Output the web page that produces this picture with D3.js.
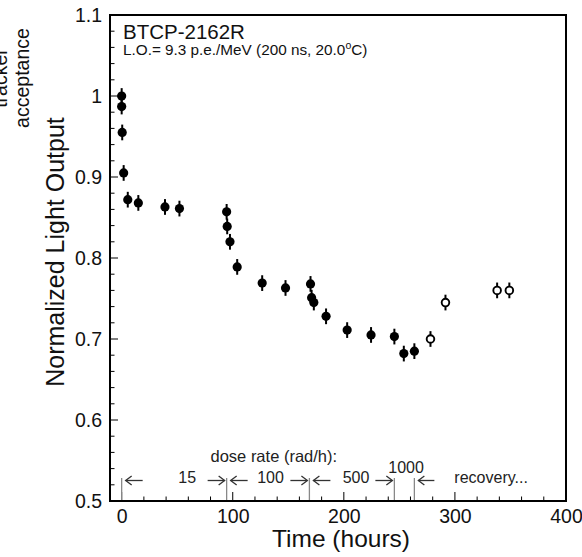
<!DOCTYPE html>
<html>
<head>
<meta charset="utf-8">
<script src="https://cdn.jsdelivr.net/npm/d3@7"></script>
<style>
html,body{margin:0;padding:0;background:#fff;}
svg{display:block;font-family:"Liberation Sans",Arial,Helvetica,sans-serif;}
</style>
</head>
<body>
<svg id="chart" width="582" height="557"></svg>
<script>
// ---- data ----
const irradTimes  = [0, 0, 0.5, 1.8, 5.5, 15, 39, 52, 94.5, 95, 97.5, 104, 126.5, 147.5, 170, 171, 173, 184, 203, 224.5, 245.5, 254, 263.5];
const irradValues = [1.0, 0.987, 0.955, 0.905, 0.872, 0.868, 0.863, 0.861, 0.857, 0.839, 0.820, 0.789, 0.769, 0.763, 0.768, 0.751, 0.745, 0.728, 0.711, 0.705, 0.703, 0.682, 0.685];
const recovTimes  = [278, 291.5, 338, 349];
const recovValues = [0.700, 0.745, 0.760, 0.760];
const errValue = 0.0097;
const doseBoundaries = [0, 94.5, 169, 245.5, 263.5];
const doseLabels = ["15", "100", "500", "1000"];
const doseLabelTimes = [59, 134, 211, 256];
const recoveryLabel = "recovery...";
const recoveryLabelTime = 299.5;
const yTicks = [0.5, 0.6, 0.7, 0.8, 0.9, 1.0, 1.1];
const yTickLabels = ["0.5", "0.6", "0.7", "0.8", "0.9", "1", "1.1"];
const xTicks = [0, 100, 200, 300, 400];

const svg = d3.select("#chart");
const L = 110, R = 566, T = 15, B = 501;
const x = d3.scaleLinear().domain([-10.5, 400]).range([L, R]);
const y = d3.scaleLinear().domain([0.5, 1.1]).range([B, T]);

// minor + major ticks (inside)
const g = svg.append("g");
const yMinor = d3.range(0.5, 1.1001, 0.02);
g.selectAll(".ymin").data(yMinor).join("line")
  .attr("x1", L).attr("x2", d => (Math.abs(d*10 - Math.round(d*10)) < 1e-6) ? L + 8 : L + 4.5)
  .attr("y1", d => y(d)).attr("y2", d => y(d))
  .attr("stroke", "#000").attr("stroke-width", 1);
const xMinor = d3.range(0, 400.01, 20);
g.selectAll(".xmin").data(xMinor).join("line")
  .attr("x1", d => x(d)).attr("x2", d => x(d))
  .attr("y1", B).attr("y2", d => (d % 100 === 0) ? B - 9 : B - 4.5)
  .attr("stroke", "#000").attr("stroke-width", 1);

// axis labels via d3 axes
const yAxis = d3.axisLeft(y).tickValues(yTicks).tickFormat((d,i) => yTickLabels[i]).tickSize(0).tickPadding(8);
const ya = svg.append("g").attr("transform", `translate(${L},0)`).call(yAxis);
ya.select(".domain").remove();
ya.selectAll("text").attr("font-size", 19.5).attr("fill", "#111").attr("font-family", "Liberation Sans, Arial, sans-serif");

const xAxis = d3.axisBottom(x).tickValues(xTicks).tickFormat(d3.format("d")).tickSize(0).tickPadding(8);
const xa = svg.append("g").attr("transform", `translate(0,${B})`).call(xAxis);
xa.select(".domain").remove();
xa.selectAll("text").attr("font-size", 19.5).attr("fill", "#111").attr("font-family", "Liberation Sans, Arial, sans-serif");

// dose annotations
const ann = svg.append("g");
ann.selectAll(".bline").data(doseBoundaries).join("line")
  .attr("x1", d => x(d)).attr("x2", d => x(d))
  .attr("y1", B).attr("y2", B - 23)
  .attr("stroke", "#888").attr("stroke-width", 1.3);

function arrow(x0, x1, yy) {
  const dir = x1 > x0 ? 1 : -1;
  ann.append("line").attr("x1", x0).attr("x2", x1).attr("y1", yy).attr("y2", yy)
    .attr("stroke", "#333").attr("stroke-width", 1.3);
  ann.append("path")
    .attr("d", `M${x1 - dir*6},${yy-4.5} L${x1},${yy} L${x1 - dir*6},${yy+4.5}`)
    .attr("fill", "none").attr("stroke", "#333").attr("stroke-width", 1.3);
}
const arrowY = B - 20.5;
for (let i = 0; i < 3; i++) {
  const a = x(doseBoundaries[i]), b = x(doseBoundaries[i+1]);
  arrow(a + 21, a + 4, arrowY);
  arrow(b - 19, b - 2, arrowY);
}
arrow(x(doseBoundaries[4]) + 20, x(doseBoundaries[4]) + 4, arrowY);

ann.selectAll(".dl").data(doseLabels).join("text")
  .attr("x", (d,i) => x(doseLabelTimes[i]))
  .attr("y", (d,i) => i === 3 ? B - 28 : B - 18)
  .attr("text-anchor", "middle").attr("font-size", 16).attr("fill", "#222")
  .text(d => d);
ann.append("text").attr("x", x(recoveryLabelTime)).attr("y", B - 18)
  .attr("font-size", 16).attr("fill", "#222").text(recoveryLabel);
ann.append("text").attr("x", x(80)).attr("y", B - 39)
  .attr("font-size", 16.5).attr("fill", "#222").text("dose rate (rad/h):");

// data: error bars + markers
const pts = irradTimes.map((t,i) => ({t, v: irradValues[i], open: false}))
  .concat(recovTimes.map((t,i) => ({t, v: recovValues[i], open: true})));
svg.append("g").selectAll("line").data(pts).join("line")
  .attr("x1", d => x(d.t)).attr("x2", d => x(d.t))
  .attr("y1", d => y(d.v - errValue)).attr("y2", d => y(d.v + errValue))
  .attr("stroke", "#000").attr("stroke-width", 2);
svg.append("g").selectAll("circle").data(pts).join("circle")
  .attr("cx", d => x(d.t)).attr("cy", d => y(d.v))
  .attr("r", d => d.open ? 3.8 : 4.6)
  .attr("fill", d => d.open ? "#fff" : "#000")
  .attr("stroke", "#000").attr("stroke-width", d => d.open ? 1.9 : 0);

// frame
svg.append("rect").attr("x", L).attr("y", T).attr("width", R - L).attr("height", B - T)
  .attr("fill", "none").attr("stroke", "#000").attr("stroke-width", 2);

// titles
svg.append("text").attr("x", 123).attr("y", 38.5).attr("font-size", 20.5).attr("fill", "#111").text("BTCP-2162R");
const lo = svg.append("text").attr("x", 123).attr("y", 55).attr("font-size", 15.3).attr("fill", "#111");
lo.append("tspan").text("L.O.= 9.3 p.e./MeV (200 ns, 20.0");
lo.append("tspan").attr("dy", -6).attr("font-size", 10.5).text("o");
lo.append("tspan").attr("dy", 6).text("C)");

svg.append("text").attr("x", (L + R) / 2 + 3).attr("y", 547).attr("text-anchor", "middle")
  .attr("font-size", 24.5).attr("fill", "#111").text("Time (hours)");
svg.append("text").attr("transform", "translate(64,252) rotate(-90)").attr("text-anchor", "middle")
  .attr("font-size", 25).attr("fill", "#111").text("Normalized Light Output");
const ta = svg.append("text").attr("transform", "translate(29,78) rotate(-90)").attr("text-anchor", "middle")
  .attr("font-size", 19.5).attr("fill", "#111");
ta.append("tspan").attr("x", 0).attr("dy", -22).text("tracker");
ta.append("tspan").attr("x", 0).attr("dy", 22).text("acceptance");
</script>
</body>
</html>
